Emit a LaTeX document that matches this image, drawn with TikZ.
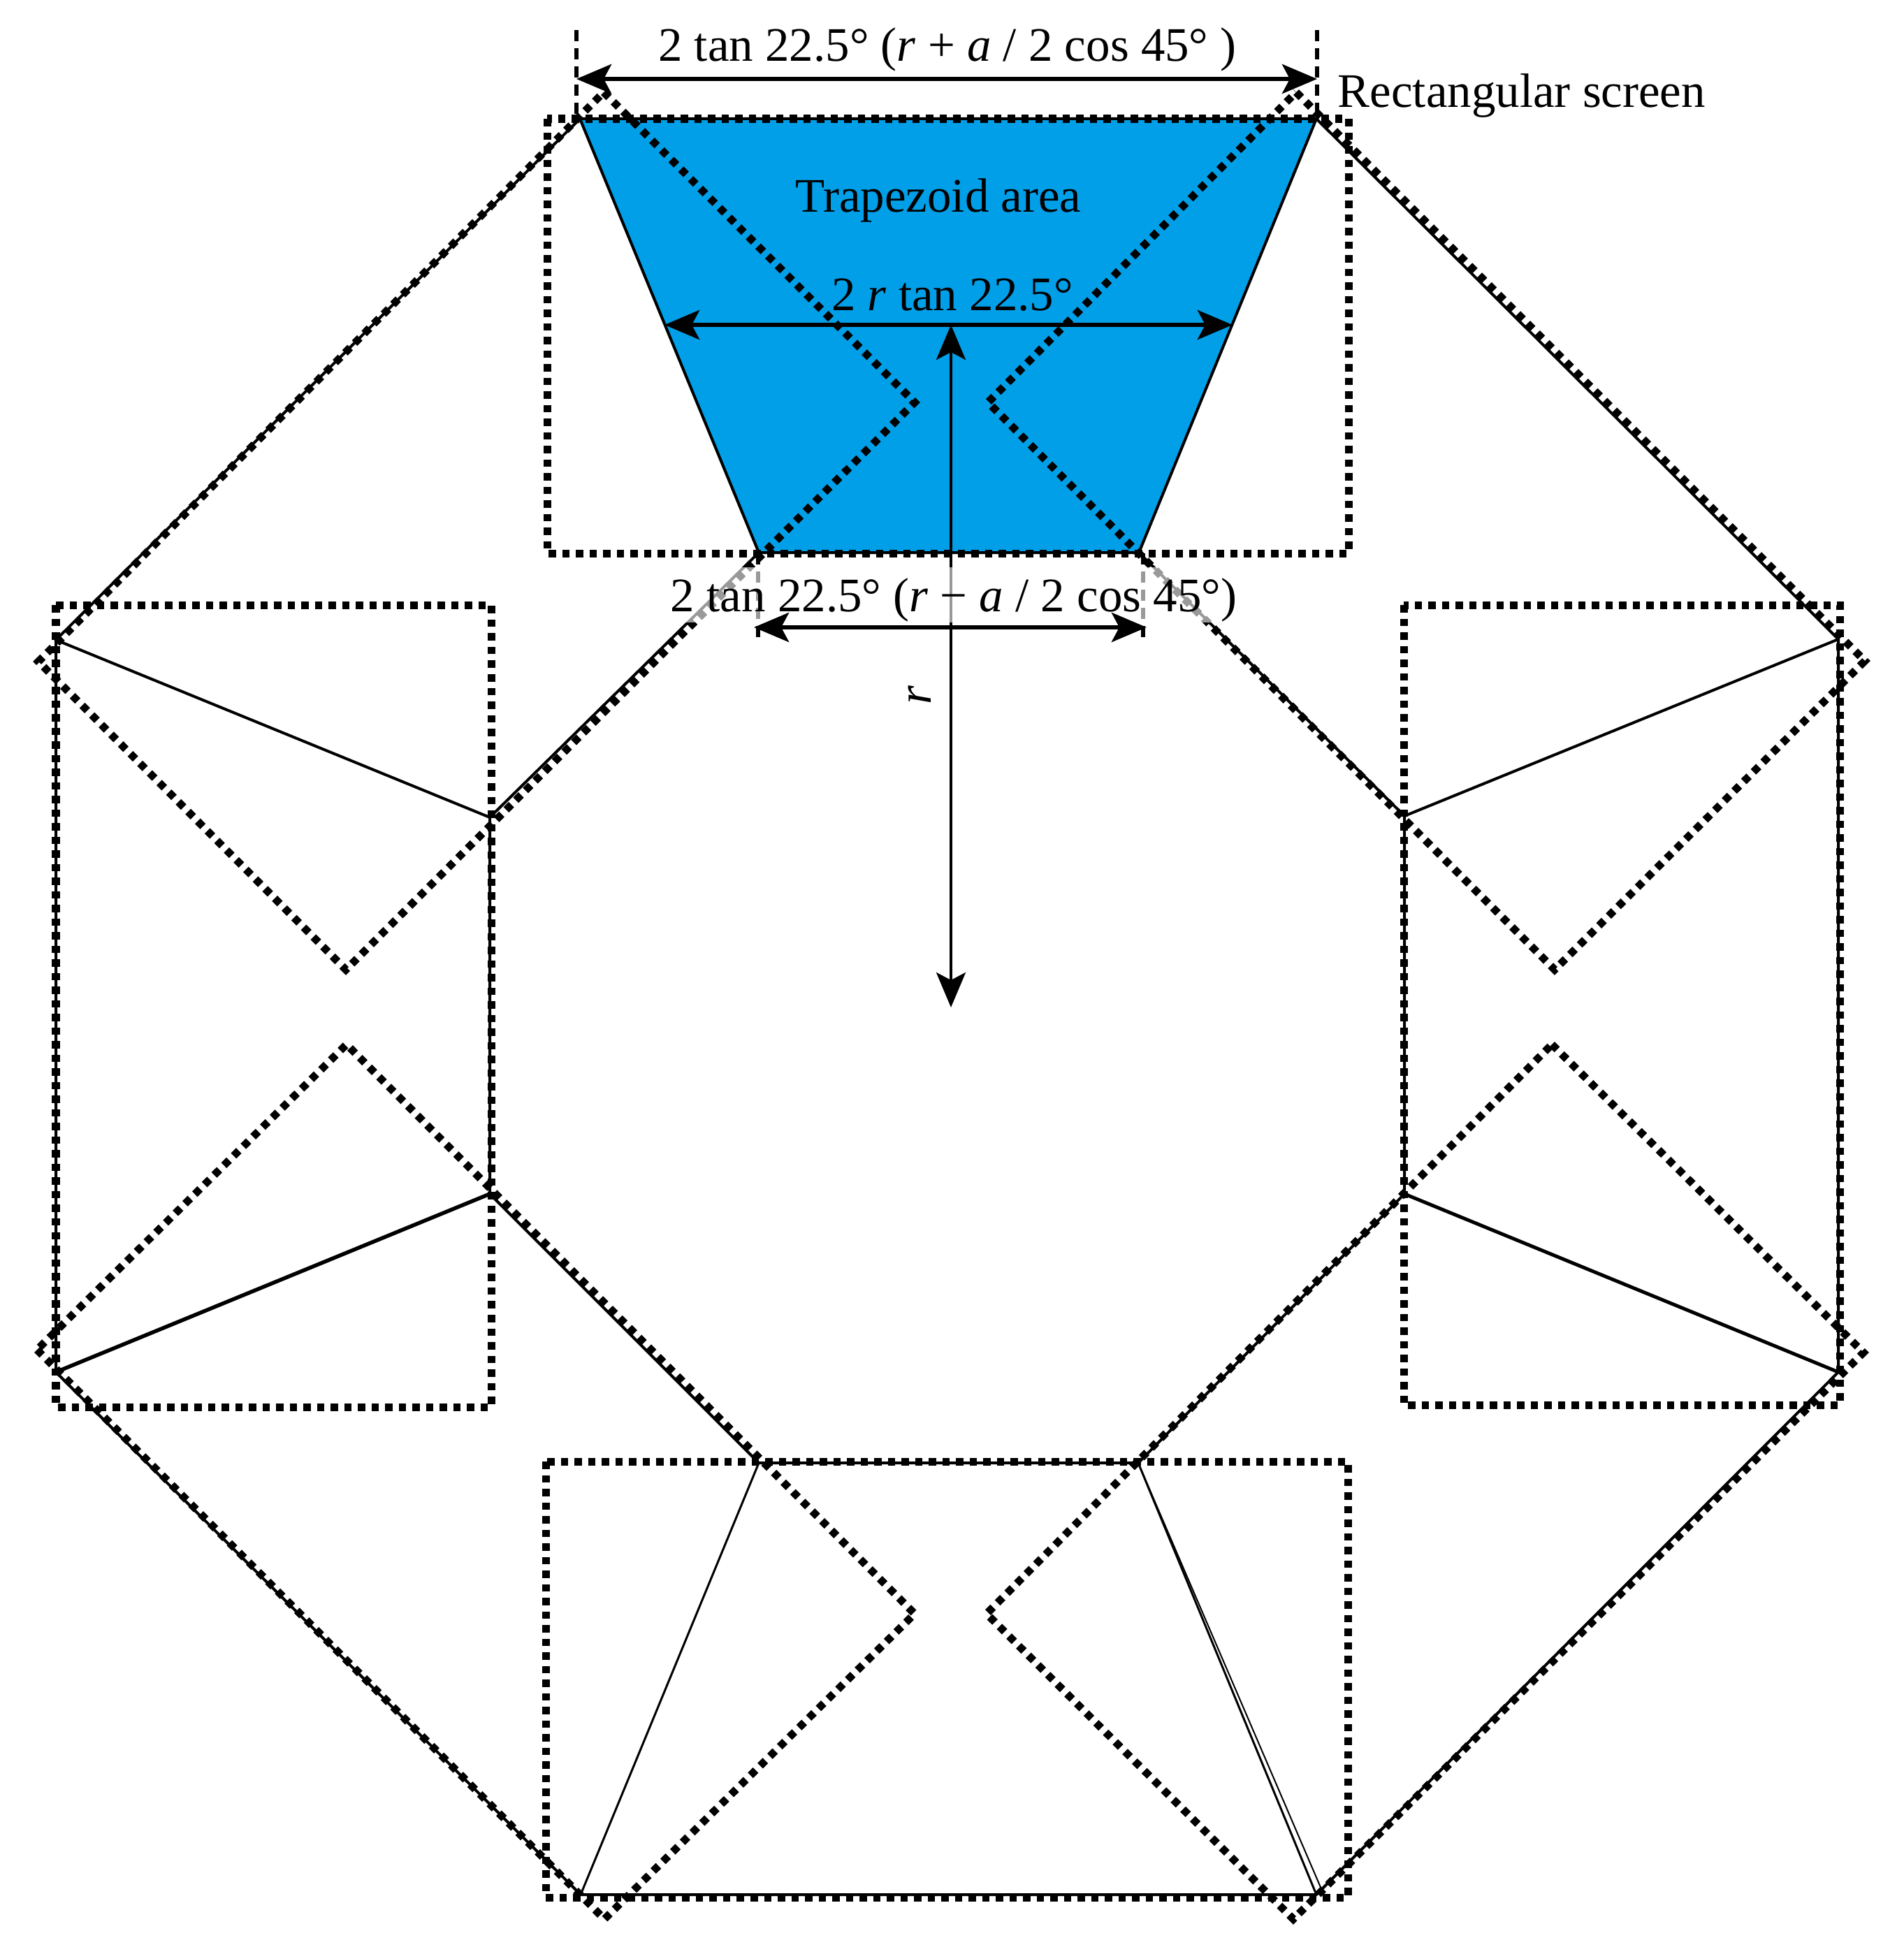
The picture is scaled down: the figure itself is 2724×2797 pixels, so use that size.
\documentclass[tikz,border=0pt]{standalone}
\usepackage{fontspec}
\setmainfont{Liberation Serif}
\usepackage{xcolor}
\usepackage{tikz}
\usetikzlibrary{arrows.meta}
\definecolor{trap_blue}{HTML}{009FE8}
\tikzset{ dim_label/.style = {anchor=base, inner sep=0, font=\fontsize{19.6}{24}\selectfont} }
\tikzset{ screen/.style = {line width=0.11cm, dash pattern=on 0.105cm off 0.09cm} }
\tikzset{ edge_line/.style = {line width=0.04cm} }
\tikzset{ guide/.style = {line width=0.055cm, dash pattern=on 0.16cm off 0.1cm} }
\tikzset{ dim_arrow/.style = {line width=0.06cm, {Stealth[length=0.5cm,width=0.42cm,inset=0.11cm]}-{Stealth[length=0.5cm,width=0.42cm,inset=0.11cm]}} }
\tikzset{ r_arrow/.style = {line width=0.04cm, {Stealth[length=0.5cm,width=0.42cm,inset=0.11cm]}-{Stealth[length=0.5cm,width=0.42cm,inset=0.11cm]}} }

\begin{document}
\begin{tikzpicture}[x=0.01cm, y=-0.01cm]
            \useasboundingbox (0,0) rectangle (2724,2797);
            \coordinate (o1) at (830,170);
            \coordinate (o2) at (1884,170);
            \coordinate (o3) at (2631,915);
            \coordinate (o4) at (2631,1964);
            \coordinate (o5) at (1884,2712);
            \coordinate (o6) at (831,2712);
            \coordinate (o7) at (80,1964);
            \coordinate (o8) at (80,916);
            \coordinate (i1) at (1086,791);
            \coordinate (i2) at (1630,791);
            \coordinate (i3) at (2010,1168);
            \coordinate (i4) at (2010,1709);
            \coordinate (i5) at (1629,2094);
            \coordinate (i6) at (1086,2094);
            \coordinate (i7) at (701,1709);
            \coordinate (i8) at (701,1170);
            \fill[trap_blue] (o1) -- (o2) -- (i2) -- (i1) -- cycle;
            \draw[edge_line] (o1) -- (o2) -- (i2) -- (i1) -- cycle;
            \draw[edge_line] (o2) -- (o3) -- (o4) -- (o5) -- (o6) -- (o7) -- (o8) -- (o1);
            \draw[edge_line] (i2) -- (i3) -- (i4) -- (i5) -- (i6) -- (i7) -- (i8) -- (i1);
            \draw[edge_line] (o3) -- (i3);
            \draw[line width=0.05cm] (o4) -- (i4);
            \draw[line width=0.03cm] (o5) -- (i5);
            \draw[line width=0.02cm] ([xshift=3]o5) -- (i5);
            \draw[line width=0.03cm] (o6) -- (i6);
            \draw[line width=0.055cm] (o7) -- (i7);
            \draw[edge_line] (o8) -- (i8);
            \draw[screen] (783,170) rectangle (1930,792);
            \draw[screen] (781,2092) rectangle (1929,2716);
            \draw[screen] (80,866) rectangle (703,2014);
            \draw[screen] (2009,866) rectangle (2633,2011);
            \draw[screen] (864,132) -- (1309,576) -- (495,1388) -- (55,947) -- cycle;
            \draw[screen] (1855,132) -- (2669,946) -- (2225,1388) -- (1414,576) -- cycle;
            \draw[screen] (53,1932) -- (865,2747) -- (1309,2310) -- (496,1495) -- cycle;
            \draw[screen] (2221,1495) -- (2667,1936) -- (1851,2747) -- (1412,2310) -- cycle;
            \coordinate (t1) at (825,43);
            \coordinate (t2) at (825,170);
            \coordinate (t3) at (1885,43);
            \coordinate (t4) at (1885,170);
            \coordinate (b1) at (1085,792);
            \coordinate (b2) at (1085,921);
            \coordinate (b3) at (1636,792);
            \coordinate (b4) at (1636,921);
            \draw[guide] (t1) -- (t2);
            \draw[guide] (t3) -- (t4);
            \draw[guide] (b1) -- (b2);
            \draw[guide] (b3) -- (b4);
            \coordinate (c0) at (1361,1442);
            \coordinate (c1) at (1361,465);
            \draw[r_arrow] (c1) -- (c0);
            \coordinate (a1) at (825,113);
            \coordinate (a2) at (1885,113);
            \coordinate (m1) at (951,465);
            \coordinate (m2) at (1764,465);
            \coordinate (n1) at (1079,898);
            \coordinate (n2) at (1641,898);
            \draw[dim_arrow] (a1) -- (a2);
            \draw[dim_arrow] (m1) -- (m2);
            \node[dim_label] (top_width) at (1356,88) {2 tan 22.5° (\textit{r} + \textit{a} / 2 cos 45° )};
            \node[dim_label, anchor=base west] (screen_name) at (1914,153) {Rectangular screen};
            \node[dim_label] (trap_name) at (1343,303) {Trapezoid area};
            \node[dim_label] (mid_width) at (1363,444) {2 \textit{r} tan 22.5°};
            \node[dim_label, fill=white, fill opacity=0.6, text opacity=1, text height=0.63cm, text depth=0.16cm] (low_width) at (1365,875) {2 tan 22.5° (\textit{r} − \textit{a} / 2 cos 45°)};
            \node[dim_label, anchor=center, rotate=90] (r_name) at (1316,995) {\textit{r}};
            \draw[dim_arrow] (n1) -- (n2);
        \end{tikzpicture}
\end{document}
